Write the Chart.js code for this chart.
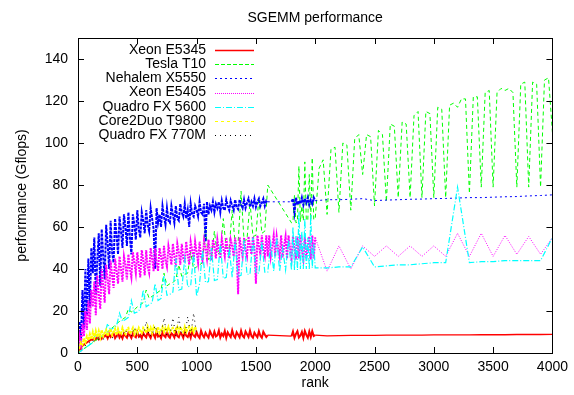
<!DOCTYPE html>
<html><head><meta charset="utf-8">
<script src="https://cdn.jsdelivr.net/npm/chart.js@4/dist/chart.umd.min.js"></script>
<style>html,body{margin:0;padding:0;background:#fff}</style>
</head><body>
<canvas id="c" width="574" height="395"></canvas>
<script>
const titleText = "SGEMM performance";
const xTitle = "rank";
const yTitle = "performance (Gflops)";
const seriesNames = ["Xeon E5345","Tesla T10","Nehalem X5550","Xeon E5405","Quadro FX 5600","Core2Duo T9800","Quadro FX 770M"];
const xTicks = [0,500,1000,1500,2000,2500,3000,3500,4000];
const yTicks = [0,20,40,60,80,100,120,140];

// rank grids
const ranksFine = [
  0,12.5,25,37.5,50,62.5,75,87.5,
  100,112.5,125,137.5,150,162.5,175,187.5,
  200,212.5,225,237.5,250,262.5,275,287.5,
  300,312.5,325,337.5,350,362.5,375,387.5,
  400,412.5,425,437.5,450,462.5,475,487.5,
  500,512.5,525,537.5,550,562.5,575,587.5,
  600,612.5,625,637.5,650,662.5,675,687.5,
  700,712.5,725,737.5,750,762.5,775,787.5,
  800,812.5,825,837.5,850,862.5,875,887.5,
  900,912.5,925,937.5,950,962.5,975,987.5,
  1000,1012.5,1025,1037.5,1050,1062.5,1075,1087.5,
  1100,1112.5,1125,1137.5,1150,1162.5,1175,1187.5,
  1200,1212.5,1225,1237.5,1250,1262.5,1275,1287.5,
  1300,1312.5,1325,1337.5,1350,1362.5,1375,1387.5,
  1400,1412.5,1425,1437.5,1450,1462.5,1475,1487.5,
  1500,1512.5,1525,1537.5,1550,1562.5,1575,1587.5,
  1600];
const ranksMidFine = [1612.5,1625,1637.5,1650,1662.5,1675,1687.5,1700,1712.5,1725,1737.5,1750,1762.5,1775,1787.5];
const ranksA = [0,25,50,75,100,125,150,175,200,225,250,275,300,325,350,375,400,425,450,475,500,525,550,575,600,625,650,675,700,725,750,775,800,825,850,875,900,925,950,975,1000,1025,1050,1075,1100,1125,1150,1175,1200,1225,1250,1275,1300,1325,1350,1375,1400,1425,1450,1475,1500,1525,1550,1575,1600];
const ranksMid = [1625,1650,1675,1700,1725,1750,1775];
const ranksB = [1800,1812.5,1825,1837.5,1850,1862.5,1875,1887.5,1900,1912.5,1925,1937.5,1950,1962.5,1975,1987.5,2000];
const ranksTail = [2100,2200,2300,2400,2500,2600,2700,2800,2900,3000,3100,3200,3300,3400,3500,3600,3700,3800,3900,4000];
const ranksShort = [0,25,50,75,100,125,150,175,200,225,250,275,300,325,350,375,400,425,450,475,500,525,550,575,600,625,650,675,700,725,750,775,800,825,850,875,900,925,950,975,1000];
const ranksShortFine = [
  0,12.5,25,37.5,50,62.5,75,87.5,
  100,112.5,125,137.5,150,162.5,175,187.5,
  200,212.5,225,237.5,250,262.5,275,287.5,
  300,312.5,325,337.5,350,362.5,375,387.5,
  400,412.5,425,437.5,450,462.5,475,487.5,
  500,512.5,525,537.5,550,562.5,575,587.5,
  600,612.5,625,637.5,650,662.5,675,687.5,
  700,712.5,725,737.5,750,762.5,775,787.5,
  800,812.5,825,837.5,850,862.5,875,887.5,
  900,912.5,925,937.5,950,962.5,975,987.5,
  1000];
const ranksGreenTail = [2033,2067,2100,2133,2167,2200,2233,2267,2300,2333,2367,2400,2433,2467,2500,2533,2567,2600,2633,2667,2700,2733,2767,2800,2833,2867,2900,2933,2967,3000,3033,3067,3100,3133,3167,3200,3233,3267,3300,3333,3367,3400,3433,3467,3500,3533,3567,3600,3633,3667,3700,3733,3767,3800,3833,3867,3900,3933,3967,4000];

// Xeon E5345
const xeon5345Fine = [
  0,1.5,2.5,3.5,4,4.5,5,5.5,
  6,6.5,6.2,7.2,6.5,7.8,6.6,8,
  6.8,8.3,7.9,8.6,7,9.1,7.6,8.4,
  9.3,7.1,8.2,9.6,7.4,8.8,7,9.2,
  8.1,7.3,9.7,8.5,7.2,9.4,8,7.5,
  9.9,7.8,8.6,7.1,9.5,8.2,7.4,10.1,
  8.4,7.2,9.6,8.8,7.3,10.2,7.9,8.5,
  7.1,9.8,8.3,7.6,10.3,8,7.2,9.4,
  8.7,7.4,10.4,8.1,7.5,9.7,8.9,7.2,
  10.2,8.2,7.6,9.5,7.3,10.5,8.4,7.7,
  9.9,8.1,7.2,10.6,8.6,7.5,9.6,8.3,
  7.3,10.4,8.8,7.6,10.1,7.9,8.4,10.7,
  7.4,9.2,8.1,10.5,7.2,9.8,8.6,7.6,
  10.8,8.3,7.3,9.9,8.7,7.5,10.6,8.2,
  7.4,10.2,8.9,7.6,10.7,8.1,7.3,9.7,
  8.5,7.5,10.4,8.2,7.3,10.1,8.8,7.6,
  8.5];
const xeon5345B = [8,10.2,7.2,9.1,10.4,7.4,8.3,10,7.2,10.5,8.6,7.3,10.2,7.6,10.4,8.1,8.5];
const xeon5345Tail = [8.2,8.3,8.4,8.4,8.4,8.5,8.5,8.5,8.5,8.6,8.6,8.6,8.6,8.7,8.7,8.7,8.8,8.8,8.8,8.9];

// Tesla T10
const teslaA = [0,1,2,3,4,5,6,7,8,9,10,11.5,12.5,14,15,16,17,21,19.5,20.5,22,23,24,30,26,27,28,29,30,38,32,33,33.5,35,42,36.5,37.5,38,48,40,41,42,43,60,44.5,45.5,58,47,48,64,49.5,50,68,52,52.5,77,53.5,54,72,55.5,56,74,57,58,80];
const teslaB = [62,62.5,75,62,62.5,89,62.5,70,63,91,63,63.5,85,63.5,93,63.5,64];
const teslaTail = [88,92,66,97,98,67,100,99,68,102,104,85,104,103,70,106,104,72,109,108,74,110,109,74,113,115,74,115,114,74,117,116,74,118,119,117,121,121,76,122,122,79,124,125,79,124,126,125,126,124,79,128,129,79,129,128,79,130,131,105];

// Nehalem X5550
const nehalemFine = [
  0,15,6,30,12,40,18,45,
  22,50,38,55,28,44,57,32,
  59,46,35,61,52,40,63,48,
  43,64,56,47,65,58,50,66,
  60,51,67,55,47,66,61,54,
  68,59,55,67,63,57,68,61,
  58,69,64,59,40,69,62,66,
  60,70,65,61,69,63,62,70,
  66,62,70,64,63,71,67,65,
  71,64,68,60,71,66,65,70,
  68,65,72,67,66,71,53,72,
  66,70,68,72,67,71,69,72,
  67,72.5,69,68,73,70,68,72.5,
  70,68,73,69.5,68.5,73,70.5,69,
  73,69,71.5,73.5,69.5,72,70,73.5,
  69.5,72,73.5,70,71.5,73.5,70,72.5,
  72];
const nehalemB = [72,73.5,67,74,70.5,72.5,71,74,70.5,73.5,71.5,74,70.5,72.8,71,74,72.5];
const nehalemTail = [73,73,73.2,73.5,72.6,72.8,73,73.2,73.3,73.5,73.6,73.8,74,74,74.2,74.4,74.5,74.8,75,75.3];

// Xeon E5405
const xeon5405Fine = [
  0,8,4,14,8,20,11,25,
  14,30,22,34,18,37,28,21,
  40,32,24,42,35,28,44,37,
  31,45,39,33,46,40,34,46,
  42,35,47,40,36,48,43,38,
  48,42,36,49,44,37,49,41,
  38,50,45,39,50,43,39,50,
  46,40,51,44,41,51,47,42,
  52,46,41,52,48,42,52,45,
  43,53,47,42,53,49,44,53,
  48,43,53,46,44,53.5,50,45,
  54,48,44,54,51,45,54,49,
  45,54.5,50,46,55,49,45,54,
  51,46,55,48,28,55,50,46,
  55,49,46,55.5,51,47,55.5,50,
  33,56,51,47,56,49,46,56,
  46];
const xeon5405Mid = [56,46,51,56,46,55.5,50,46,56,45.5,51,55.5,45,56,50];
const xeon5405B = [45,55.5,50,44.5,55.5,45,56,49,44.5,55.5,45,51,55.5,44.5,56,45,55];
const xeon5405Tail = [39,51,40,51,46,51,46,51,46,51,46,57,46,57,46,56,47,55.5,47,55];

// Quadro FX 5600
const fx5600A = [0,1,2,3,4,5,9,7,8,9,14,11,12,13,19,15,16,17,25,19,19.5,21,30,22,23,24,33,25,26,37,27.5,28,29,45,30,30.5,45,31.5,32,47,27,33,49,33.5,34,50,34.5,35,52,35.5,36,50,36,53,36.5,37,54,37.5,37.5,55,38,38,53,38.5,38.5];
const fx5600Mid = [52,39,55,39,50,39.5,54];
const fx5600B = [39.5,60,39.5,56,39.5,67,40,58,40,64,40,55,40,66,40.5,52,40.5];
const fx5600Tail = [40.5,41,41,50.5,41,41.5,42,42,42.5,43,43,79,43,43.5,43.5,44,44,44,44,55];

// Core2Duo T9800
const core2Fine = [
  0,3,5,4,7,5,8,6,
  9,6.5,10,7,10.5,7.5,10.5,7.5,
  11,8,9.5,11,8,10,11.5,8.5,
  10,11.5,8.5,11.5,9.5,9,12,10,
  9,11.5,12,9,10.5,12,9,11,
  9.5,12,10.5,9.5,12,11,9.5,12.5,
  10,12,9.5,12.5,11,10,12.5,9.5,
  11,12.5,10,12,10.5,12.5,10,11.5,
  12,10,11,12.5,10,12.5,11,10,
  12.5,10,11.5,12.5,10.5,12,10,12.5,
  10.5];

// Quadro FX 770M
const fx770 = [0,1.5,3,4,5,5.5,6,6.5,7,6.5,7.5,7,7.5,8,7,8,11,7.5,8,12,8,7.5,8,15,8,8.5,13,8,8.5,16.7,8,8.5,16.7,8,17,8.5,8,17.3,8.5,19,8.5];

function zip(xs, ys){ const n=Math.min(xs.length, ys.length); const out=[]; for(let i=0;i<n;i++) out.push({x:xs[i], y:ys[i]}); return out; }

const FONT = '"Liberation Sans", Arial, Helvetica, sans-serif';

// thinner styling where samples are sparse (gaps and tail beyond 2000)
function sparse(c){ return (c.p1.parsed.x - c.p0.parsed.x) > 20; }
function thinSeg(width, dash){
  return { borderWidth: c => sparse(c) ? width : undefined, borderDash: c => sparse(c) ? dash : undefined };
}

const datasets = [
  {label:seriesNames[0], data:[...zip(ranksFine,xeon5345Fine),...zip(ranksB,xeon5345B),...zip(ranksTail,xeon5345Tail)], borderColor:'#ff0000', borderWidth:2, borderDash:[], keyWidth:1.5, keyDash:[], segment:thinSeg(1.3,[]), order:7},
  {label:seriesNames[1], data:[...zip(ranksA,teslaA),...zip(ranksB,teslaB),...zip(ranksGreenTail,teslaTail)], borderColor:'#00ff00', borderWidth:1, borderDash:[4,3], keyWidth:1, keyDash:[4,2], order:6},
  {label:seriesNames[2], data:[...zip(ranksFine,nehalemFine),...zip(ranksB,nehalemB),...zip(ranksTail,nehalemTail)], borderColor:'#0000ff', borderWidth:2, borderDash:[3,1], keyWidth:1, keyDash:[2,3], segment:thinSeg(1,[2,3]), order:5},
  {label:seriesNames[3], data:[...zip(ranksFine,xeon5405Fine),...zip(ranksMidFine,xeon5405Mid),...zip(ranksB,xeon5405B),...zip(ranksTail,xeon5405Tail)], borderColor:'#ff00ff', borderWidth:2, borderDash:[2,1], keyWidth:1, keyDash:[1,1], segment:thinSeg(1,[1,1.5]), order:4},
  {label:seriesNames[4], data:[...zip(ranksA,fx5600A),...zip(ranksMid,fx5600Mid),...zip(ranksB,fx5600B),...zip(ranksTail,fx5600Tail)], borderColor:'#00ffff', borderWidth:1.2, borderDash:[6,2,1,2], keyWidth:1, keyDash:[6,2,1,2], order:3},
  {label:seriesNames[5], data:zip(ranksShortFine,core2Fine), borderColor:'#ffff00', borderWidth:2, borderDash:[3,1], keyWidth:1, keyDash:[3,3], order:2},
  {label:seriesNames[6], data:zip(ranksShort,fx770), borderColor:'#000000', borderWidth:1, borderDash:[1,4], keyWidth:1, keyDash:[1,4], order:1}
];
datasets.forEach(d=>{ d.pointRadius=0; d.fill=false; d.tension=0; d.spanGaps=true; });

const gpPlugin = {
  id:'gp',
  afterDraw(chart){
    const {ctx, chartArea:a, scales} = chart;
    ctx.save();
    ctx.strokeStyle='#000'; ctx.lineWidth=1; ctx.setLineDash([]);
    ctx.strokeRect(Math.round(a.left)+0.5, Math.round(a.top)+0.5, Math.round(a.right-a.left), Math.round(a.bottom-a.top));
    const L=6;
    ctx.beginPath();
    xTicks.forEach(v=>{ const x=Math.round(scales.x.getPixelForValue(v))+0.5; ctx.moveTo(x,a.bottom); ctx.lineTo(x,a.bottom-L); ctx.moveTo(x,a.top); ctx.lineTo(x,a.top+L); });
    yTicks.forEach(v=>{ const y=Math.round(scales.y.getPixelForValue(v))+0.5; ctx.moveTo(a.left,y); ctx.lineTo(a.left+L,y); ctx.moveTo(a.right,y); ctx.lineTo(a.right-L,y); });
    ctx.stroke();
    ctx.fillStyle='#000'; ctx.font='14px '+FONT; ctx.textAlign='center'; ctx.textBaseline='middle';
    ctx.fillText(titleText, (a.left+a.right)/2, 18);
    ctx.textAlign='right';
    chart.data.datasets.forEach((ds,i)=>{
      const y = a.top + 12 + i*14.2;
      ctx.fillStyle='#000';
      ctx.fillText(ds.label, a.left+128, y);
      ctx.strokeStyle=ds.borderColor; ctx.lineWidth=ds.keyWidth; ctx.setLineDash(ds.keyDash);
      ctx.beginPath(); ctx.moveTo(a.left+137, Math.round(y)+0.5); ctx.lineTo(a.left+176, Math.round(y)+0.5); ctx.stroke();
    });
    ctx.restore();
  }
};

new Chart(document.getElementById('c'), {
  type:'line',
  data:{datasets},
  plugins:[gpPlugin],
  options:{
    responsive:false, animation:false, devicePixelRatio:1,
    layout:{padding:{top:38,right:21,left:0,bottom:0}},
    plugins:{legend:{display:false}, title:{display:false}, tooltip:{enabled:false}},
    scales:{
      x:{type:'linear', min:0, max:4000,
         grid:{display:false, drawTicks:false}, border:{display:false},
         ticks:{stepSize:500, padding:6, color:'#000', font:{family:FONT, size:14}, maxRotation:0, callback:v=>String(v)},
         title:{display:true, text:xTitle, color:'#000', font:{family:FONT, size:14}, padding:{top:0,bottom:3.6}},
         afterFit(s){ s.height=42; }},
      y:{type:'linear', min:0, max:150,
         grid:{display:false, drawTicks:false}, border:{display:false},
         ticks:{stepSize:20, padding:10, color:'#000', font:{family:FONT, size:14}, callback:v=>String(v)},
         afterBuildTicks(s){ s.ticks = s.ticks.filter(t=>yTicks.includes(t.value)); },
         title:{display:true, text:yTitle, color:'#000', font:{family:FONT, size:14}, padding:{top:13.6,bottom:0}},
         afterFit(s){ s.width=78; }}
    }
  }
});
</script>
</body></html>
